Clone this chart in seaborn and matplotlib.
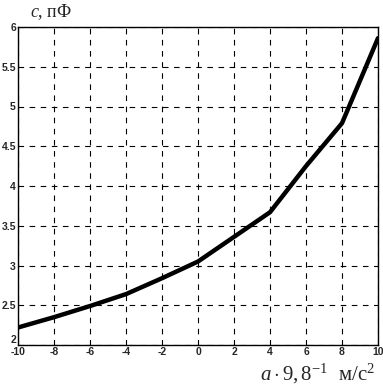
import seaborn as sns
import matplotlib.pyplot as plt
import pandas as pd

# данные
a = [-10, -8, -6, -4, -2, 0, 2, 4, 6, 8, 10]
c = [2.22, 2.35, 2.49, 2.64, 2.84, 3.05, 3.36, 3.67, 4.25, 4.79, 5.86]
xticks = [-10, -8, -6, -4, -2, 0, 2, 4, 6, 8, 10]
yticks = [2, 2.5, 3, 3.5, 4, 4.5, 5, 5.5, 6]

df = pd.DataFrame({'a': a, 'c': c})

sns.set_style('white')
plt.rcParams['font.family'] = ['Liberation Sans', 'DejaVu Sans']
plt.rcParams['mathtext.fontset'] = 'custom'
plt.rcParams['mathtext.rm'] = 'Liberation Serif'
plt.rcParams['mathtext.it'] = 'Liberation Serif:italic'

fig = plt.figure(figsize=(3.83, 3.91), dpi=100)
ax = fig.add_axes([18 / 383, 1 - 345 / 391, 360 / 383, 318 / 391])

sns.lineplot(data=df, x='a', y='c', ax=ax, color='black', linewidth=3.2)

ax.set_xlim(-10, 10)
ax.set_ylim(2, 6)
ax.set_xticks(xticks)
ax.set_yticks(yticks)
ax.set_xticklabels([str(t) for t in xticks], fontsize=7.5, fontweight='bold')
ax.set_yticklabels(['2', '2.5', '3', '3.5', '4', '4.5', '5', '5.5', '6'],
                   fontsize=7.5, fontweight='bold')
ax.get_yticklabels()[0].set_va('bottom')
ax.tick_params(length=0, pad=1.5)
ax.grid(True, color='black', linestyle=(0, (5, 5)), linewidth=0.8)
for s in ax.spines.values():
    s.set_color('black')
    s.set_linewidth(1)
ax.set_xlabel('')
ax.set_ylabel('')

fig.text(30 / 383, 1 - 12 / 391, r'$c$, пФ', fontsize=13, va='center',
         family=['Liberation Serif'])
fig.text(375 / 383, 1 - 374 / 391, r'$a\cdot9,8^{-1}$  м/с$^{2}$', fontsize=15,
         ha='right', va='center', family=['Liberation Serif'])

fig.savefig('out.png', dpi=100)
